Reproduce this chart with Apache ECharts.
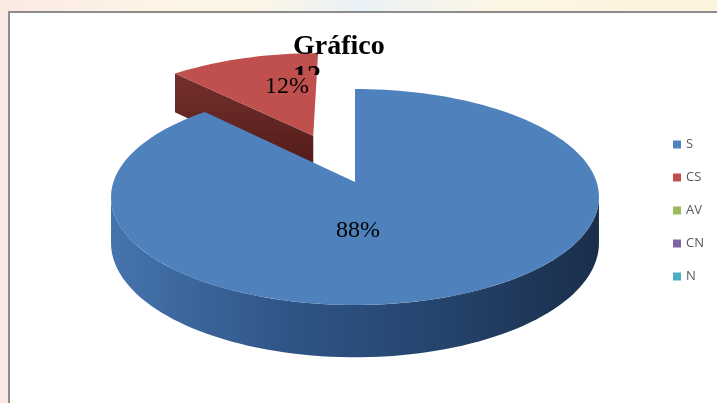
<!DOCTYPE html>
<html>
<head>
<meta charset="utf-8">
<script src="https://cdn.jsdelivr.net/npm/echarts@6/dist/echarts.min.js"></script>
<style>
  html, body { margin: 0; padding: 0; }
  body {
    width: 717px; height: 403px; overflow: hidden;
    background: linear-gradient(90deg, #fbe9e4 0%, #fdf4e6 20%, #fdf6e6 35%, #eaf1f6 50%, #fdf6e4 70%, #fcf3dc 100%);
  }
  #chart { position: absolute; left: 0; top: 0; width: 717px; height: 403px; }
</style>
</head>
<body>
<div id="chart"></div>
<script>
// Gráfico 12 - pastel 3D (porcentajes)
const categories = ['S', 'CS', 'AV', 'CN', 'N'];
const percents = [88, 12, 0, 0, 0];
const titleText = 'Gráfico\n12';

// colores tipo Excel
const topColors = ['#4f81bd', '#c0504d', '#9bbb59', '#8064a2', '#4bacc6'];
const wallStops = [
  [{ offset: 0, color: '#4674ae' }, { offset: 0.35, color: '#2f5687' }, { offset: 0.7, color: '#24426a' }, { offset: 1, color: '#1a2e4a' }],
  [{ offset: 0, color: '#9a3a37' }, { offset: 1, color: '#5a1c1b' }],
  [{ offset: 0, color: '#7d9a44' }, { offset: 1, color: '#4f6329' }],
  [{ offset: 0, color: '#664f84' }, { offset: 1, color: '#3e3052' }],
  [{ offset: 0, color: '#3a8ca2' }, { offset: 1, color: '#245665' }]
]
const faceStops = [
  [{ offset: 0, color: '#3a6497' }, { offset: 1, color: '#24426a' }],
  [{ offset: 0, color: '#74302d' }, { offset: 1, color: '#4e1918' }],
  [{ offset: 0, color: '#6f8a3d' }, { offset: 1, color: '#4f6329' }],
  [{ offset: 0, color: '#5b4677' }, { offset: 1, color: '#3e3052' }],
  [{ offset: 0, color: '#357f93' }, { offset: 1, color: '#245665' }]
]
const explode = [0, 0.5, 0, 0, 0];
// posicion de la etiqueta respecto al vertice de cada porcion (unidades del radio)
const labelAt = [[0.012, -0.435], [-0.138, 0.56], [0, 0.5], [0, 0.5], [0, 0.5]];

const pie = { cx: 355, cy: 182, rx: 241.6, ry: 105.9, depth: 45, persp: 0.139 };

const total = percents.reduce((a, b) => a + b, 0);
const starts = [];
let acc = 0;
percents.forEach(v => { starts.push(acc); acc += v });

function project(u, v, down) {
  const s = 1 / (1 + pie.persp * v);
  return [pie.cx + pie.rx * u * s, pie.cy - pie.ry * v * s + down * s];
}

function arc(du, dv, a1, a2, down) {
  const pts = [];
  const n = Math.max(2, Math.ceil(Math.abs(a2 - a1) / (Math.PI / 90)));
  for (let k = 0; k <= n; k++) {
    const a = a1 + (a2 - a1) * k / n;
    pts.push(project(du + Math.sin(a), dv + Math.cos(a), down));
  }
  return pts;
}

function renderSlice(i) {
  return function (params, api) {
    const value = api.value(0);
    if (!value) return { type: 'group', children: [] };
    const a1 = api.value(1) / api.value(2) * Math.PI * 2;
    const a2 = (api.value(1) + value) / api.value(2) * Math.PI * 2;
    const mid = (a1 + a2) / 2;
    const du = explode[i] * Math.sin(mid);
    const dv = explode[i] * Math.cos(mid);
    const h = pie.depth;
    const children = [];
    // pared exterior (solo la parte visible de frente);
    const a0 = Math.acos(-pie.persp);
    const b1 = Math.max(a1, a0), b2 = Math.min(a2, Math.PI * 2 - a0);
    if (b2 > b1) {
      children.push({
        type: 'polygon',
        shape: { points: arc(du, dv, b1, b2, 0).concat(arc(du, dv, b2, b1, h)) },
        style: { fill: new echarts.graphic.LinearGradient(0, 0, 1, 0, wallStops[i]) }
      });
    }
    // caras de corte
    const faces = [];
    if (Math.sin(a1) < -1e-6) faces.push(a1);
    if (Math.sin(a2) > 1e-6) faces.push(a2);
    faces.forEach(a => {
      const u = du + Math.sin(a), v = dv + Math.cos(a);
      children.push({
        type: 'polygon',
        shape: { points: [project(du, dv, 0), project(u, v, 0), project(u, v, h), project(du, dv, h)] },
        style: { fill: new echarts.graphic.LinearGradient(0, 0, 0, 1, faceStops[i]) }
      });
    });
    // cara superior
    children.push({
      type: 'polygon',
      shape: { points: [project(du, dv, 0)].concat(arc(du, dv, a1, a2, 0)) },
      style: { fill: topColors[i] }
    });
    const lp = project(du + labelAt[i][0], dv + labelAt[i][1], 0);
    children.push({
      type: 'text',
      z2: 10,
      style: {
        text: value + '%', x: lp[0], y: lp[1],
        textAlign: 'center', textVerticalAlign: 'middle',
        font: '24px "Liberation Serif"', fill: '#000'
      }
    });
    return { type: 'group', children: children };
  };
}

// las porciones de atras se dibujan primero
const series = categories.map((name, i) => {
  const mid = (starts[i] + percents[i] / 2) / total * Math.PI * 2;
  return {
    type: 'custom',
    name: name,
    coordinateSystem: 'none',
    silent: true,
    z: 5 - Math.cos(mid),
    itemStyle: { color: topColors[i] },
    data: [[percents[i], starts[i], total]],
    renderItem: renderSlice(i)
  };
});

series.push({
  type: 'custom',
  name: 'titulo',
  coordinateSystem: 'none',
  silent: true,
  z: 20,
  data: [[0]],
  renderItem: function () {
    return {
      type: 'text',
      clipPath: { type: 'rect', shape: { x: 0, y: 0, width: 717, height: 75 } },
      style: {
        text: titleText, x: 293, y: 31.5,
        textAlign: 'left', textVerticalAlign: 'top',
        font: 'bold 28px "Liberation Serif"', lineHeight: 30, fill: '#000'
      }
    };
  }
});

const myChart = echarts.init(document.getElementById('chart'));
const option = {
  animation: false,
  graphic: [{
    type: 'rect',
    z: 0,
    silent: true,
    shape: { x: 9, y: 12, width: 720, height: 400 },
    style: { fill: '#fff', stroke: '#8c8c8c', lineWidth: 2 }
  }],
  legend: {
    data: categories,
    orient: 'vertical',
    left: 668,
    top: 133,
    icon: 'rect',
    itemWidth: 8,
    itemHeight: 8,
    itemGap: 20,
    textStyle: { fontFamily: 'Open Sans', fontSize: 13, color: '#595959' }
  },
  series: series
};
myChart.setOption(option);
window.addEventListener('resize', function () {
  myChart.resize()
})
</script>
</body>
</html>
